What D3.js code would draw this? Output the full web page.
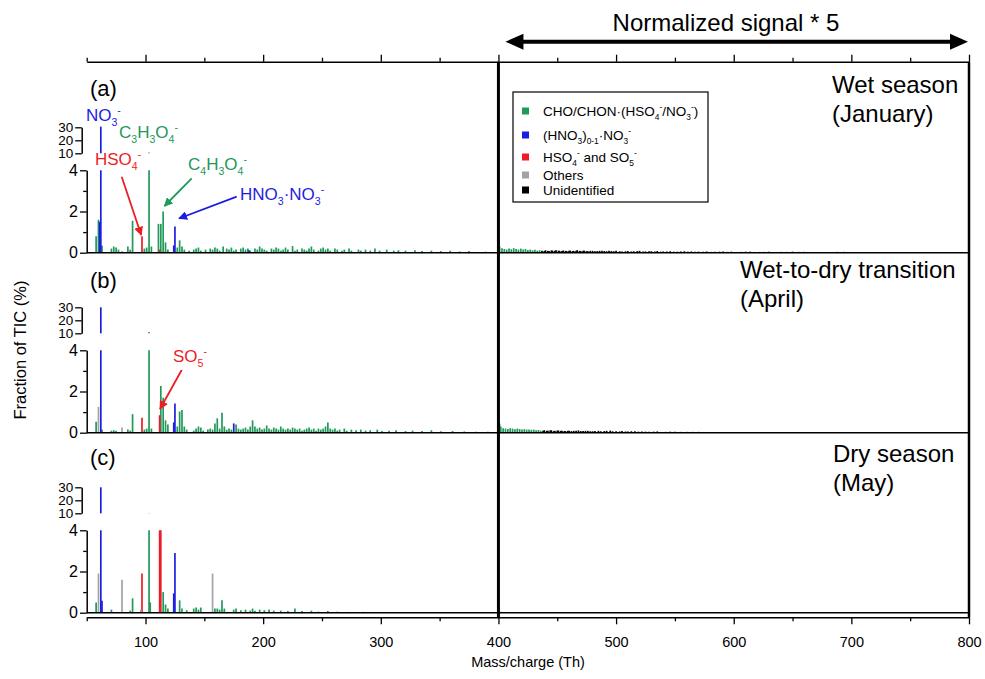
<!DOCTYPE html>
<html><head><meta charset="utf-8">
<script src="https://cdn.jsdelivr.net/npm/d3@7"></script>
<style>
body{margin:0;background:#fff;}
svg{display:block;}
text{font-family:"Liberation Sans",Arial,Helvetica,sans-serif;}
</style>
</head><body>
<svg id="chart" width="985" height="679"></svg>
<script>
// ---------------- DATA (m/z, fraction of TIC %) ----------------
// Values above m/z 400 are the plotted "normalized signal * 5".
const categories = ["cho", "no3", "so4", "other", "unid"];
const xTicks = [50,100,150,200,250,300,350,400,450,500,550,600,650,700,750,800];
const yTicksLow = [0,1,2,3,4];
const yTicksHigh = [10,20,30];

// (a) Wet season (January)
const jan_cho = [[58,0.8],[60,1.6],[63,0.35],[71,0.2],[73,0.3],[75,0.25],[77,0.15],[85,0.3],[87,0.15],[89,1.55],[99,0.2],[101,0.25],[103,10.6],[105,0.3],[111,1.4],[113,1.4],[115,2.0],[117,0.5],[119,0.15],[127,0.25],[129,0.6],[131,0.3],[133,0.15],[137,0.1],[141,0.15],[143,0.2],[145,0.25],[147,0.1],[151,0.15],[155,0.2],[157,0.15],[159,0.25],[161,0.2],[163,0.1],[166,0.3],[169,0.2],[171,0.15],[173,0.25],[175,0.1],[177,0.15],[181,0.2],[183,0.25],[185,0.15],[187,0.2],[189,0.1],[193,0.2],[195,0.15],[197,0.3],[199,0.2],[201,0.15],[203,0.1],[207,0.2],[209,0.15],[211,0.25],[213,0.2],[215,0.1],[217,0.15],[219,0.25],[221,0.15],[225,0.32],[227,0.1],[229,0.15],[233,0.2],[235,0.15],[237,0.1],[239,0.2],[241,0.3],[243,0.15],[247,0.1],[249,0.2],[251,0.25],[253,0.15],[255,0.2],[257,0.1],[261,0.2],[263,0.15],[267,0.1],[269,0.15],[273,0.2],[275,0.1],[281,0.15],[283,0.1],[287,0.15],[291,0.1],[295,0.2],[299,0.1],[305,0.15],[311,0.1],[315,0.12],[321,0.1],[329,0.12],[335,0.08],[343,0.1],[351,0.08],[359,0.1],[367,0.06],[375,0.08],[389,0.05],
  [401,0.3],[403,0.22],[405,0.18],[407,0.15],[409,0.2],[411,0.17],[413,0.22],[415,0.18],[417,0.15],[419,0.2],[421,0.15],[423,0.18],[425,0.13],[427,0.15],[429,0.12],[431,0.14],[433,0.1],[435,0.12]];
const jan_no3 = [[61,1.5],[62,30.5],[124,0.35],[125,1.27],[188,0.12]];
const jan_so4 = [[97,0.8],[112,0.15]];
const jan_other = [[80,0.08]];
const jan_unid = [[437,0.1],[439,0.08],[440,0.12],[442,0.09],[443,0.08],[445,0.11],[446,0.1],[448,0.09],[449,0.12],[451,0.1],[452,0.09],[454,0.08],[455,0.11],[457,0.09],[458,0.08],[460,0.1],[461,0.1],[463,0.08],[464,0.09],[466,0.1],[467,0.12],[469,0.09],[470,0.08],[472,0.1],[473,0.1],[475,0.08],[476,0.07],[478,0.09],[480,0.09],[482,0.07],[484,0.08],[486,0.09],[488,0.1],[490,0.08],[492,0.07],[494,0.09],[496,0.08],[498,0.07],[500,0.09],[503,0.07],[505,0.06],[508,0.07],[510,0.08],[513,0.06],[515,0.07],[518,0.08],[520,0.09],[523,0.06],[525,0.06],[528,0.07],[530,0.07],[533,0.06],[535,0.08],[538,0.05],[540,0.06],[543,0.06],[546,0.07],[549,0.05],[552,0.05],[555,0.06],[558,0.07],[561,0.05],[564,0.06],[567,0.05],[570,0.05],[574,0.05],[577,0.06],[581,0.04],[584,0.05],[588,0.05],[591,0.06],[595,0.04],[598,0.05],[602,0.04],[606,0.04],[610,0.05],[614,0.05],[618,0.04],[622,0.04],[626,0.04],[630,0.05],[635,0.04],[640,0.04],[645,0.04],[650,0.05],[655,0.04],[660,0.04],[665,0.03],[670,0.04],[676,0.03],[682,0.03],[688,0.04],[694,0.04],[700,0.03],[706,0.03],[713,0.03],[720,0.03],[728,0.03],[735,0.03],[742,0.02],[750,0.02],[760,0.02],[770,0.02],[780,0.02]];

// (b) Wet-to-dry transition (April)
const apr_cho = [[58,0.53],[63,0.15],[71,0.1],[73,0.12],[75,0.1],[85,0.15],[87,0.1],[89,0.9],[99,0.15],[101,0.2],[103,11],[105,0.2],[113,2.27],[115,1.7],[117,0.6],[119,0.4],[127,0.3],[129,1.03],[131,1.1],[133,0.3],[135,0.15],[141,0.1],[143,0.2],[145,0.3],[147,0.25],[149,0.1],[153,0.15],[155,0.2],[157,0.15],[159,0.45],[161,0.7],[163,0.2],[165,0.97],[167,0.3],[169,0.15],[171,0.2],[173,0.15],[177,0.4],[179,0.2],[181,0.15],[183,0.2],[185,0.25],[187,0.15],[189,0.3],[191,0.6],[193,0.3],[195,0.2],[197,0.25],[199,0.15],[201,0.2],[203,0.35],[205,0.2],[207,0.15],[209,0.25],[211,0.2],[213,0.15],[215,0.3],[217,0.2],[219,0.15],[221,0.2],[223,0.15],[225,0.25],[227,0.2],[229,0.15],[231,0.2],[233,0.1],[235,0.15],[237,0.2],[239,0.25],[241,0.15],[243,0.2],[245,0.1],[247,0.2],[249,0.15],[251,0.2],[253,0.3],[255,0.5],[257,0.2],[259,0.15],[261,0.2],[263,0.1],[265,0.15],[269,0.2],[271,0.1],[275,0.15],[279,0.12],[283,0.15],[287,0.1],[291,0.12],[297,0.15],[301,0.08],[307,0.1],[313,0.12],[321,0.08],[327,0.1],[335,0.08],[343,0.12],[351,0.07],[361,0.08],[371,0.06],[381,0.05],[391,0.05],
  [401,0.44],[402,0.3],[404,0.22],[406,0.2],[408,0.18],[410,0.22],[412,0.2],[414,0.17],[416,0.2],[418,0.18],[420,0.15],[422,0.17],[424,0.15],[426,0.16],[428,0.14],[430,0.15],[432,0.12],[434,0.13],[436,0.1]];
const apr_no3 = [[62,30],[124,0.5],[125,1.42],[175,0.45]];
const apr_so4 = [[97,0.73],[112,0.85]];
const apr_other = [[60,1.25],[80,0.25]];
const apr_unid = [[438,0.1],[439,0.12],[441,0.09],[442,0.1],[444,0.11],[445,0.12],[447,0.08],[448,0.09],[450,0.1],[451,0.11],[453,0.09],[454,0.1],[456,0.08],[457,0.08],[459,0.09],[460,0.1],[462,0.08],[464,0.09],[466,0.1],[468,0.11],[470,0.08],[472,0.08],[474,0.09],[476,0.09],[478,0.07],[480,0.07],[482,0.08],[485,0.09],[487,0.07],[490,0.08],[492,0.09],[495,0.1],[497,0.07],[500,0.07],[503,0.06],[505,0.08],[508,0.06],[510,0.06],[513,0.07],[516,0.07],[519,0.05],[522,0.06],[525,0.05],[528,0.05],[532,0.05],[535,0.06],[539,0.04],[542,0.04],[546,0.05],[550,0.05],[555,0.04],[560,0.04],[565,0.04],[570,0.04],[576,0.03],[582,0.03],[588,0.03],[595,0.03],[602,0.02],[610,0.02]];

// (c) Dry season (May)
const may_cho = [[58,0.5],[71,0.15],[87,0.1],[89,0.7],[103,10.3],[104,0.5],[115,1.0],[117,0.4],[119,0.2],[129,0.6],[131,0.2],[135,0.12],[141,0.2],[143,0.25],[145,0.15],[147,0.25],[159,0.2],[161,0.2],[163,0.15],[165,0.6],[167,0.2],[175,0.15],[177,0.2],[181,0.12],[185,0.15],[189,0.1],[191,0.2],[193,0.1],[197,0.15],[201,0.12],[205,0.15],[209,0.1],[215,0.1],[221,0.08],[227,0.2],[233,0.08],[241,0.1],[247,0.05],[255,0.08],[263,0.05],[271,0.04],[285,0.04]];
const may_no3 = [[62,30],[63,0.58],[124,0.94],[125,2.9]];
const may_so4 = [[97,1.9],[112,6],[113,5]];
const may_other = [[60,1.9],[80,1.6],[96,0.15],[157,1.9]];
const may_unid = [[402,0.04],[405,0.03],[409,0.03]];

const panelLabels = ["(a)", "(b)", "(c)"];
const seasonLines = [["Wet season","(January)"],["Wet-to-dry transition","(April)"],["Dry season","(May)"]];
const legendLabels = [
  [["CHO/CHON·(HSO",""],["4","sub"],["-","sup"],["/NO",""],["3","sub"],["-","sup"],[")",""]],
  [["(HNO",""],["3","sub"],[")",""],["0-1","sub"],["·NO",""],["3","sub"],["-","sup"]],
  [["HSO",""],["4","sub"],["-","sup"],[" and SO",""],["5","sub"],["-","sup"]],
  [["Others",""]],
  [["Unidentified",""]]
];

// ---------------- DRAWING ----------------
const colors = {cho:"#21995a", no3:"#1d1de0", so4:"#ec1d26", other:"#a3a3a3", unid:"#000000"};
const panelData = [
  {cho:jan_cho, no3:jan_no3, so4:jan_so4, other:jan_other, unid:jan_unid},
  {cho:apr_cho, no3:apr_no3, so4:apr_so4, other:apr_other, unid:apr_unid},
  {cho:may_cho, no3:may_no3, so4:may_so4, other:may_other, unid:may_unid}
];

const svg = d3.select("#chart");
const x = d3.scaleLinear().domain([50, 800]).range([86.7, 969]);
const baselines = [252.7, 432.7, 612.7];
const labelY = [[92.7,121.7],[278.3,306.7],[461.5,490.5]];
const seasonX = [832, 740, 833];
const panelLabelY = [96, 288, 465];

function rich(g, parts, px, py, fs, color) {
  const t = g.append("text").attr("x", px).attr("y", py).attr("font-size", fs).attr("fill", color);
  let shift = 0;
  parts.forEach(([s, k]) => {
    const target = k === "sub" ? 0.28 * fs : k === "sup" ? -0.42 * fs : 0;
    const ts = t.append("tspan").attr("dy", target - shift).text(s);
    if (k) ts.attr("font-size", fs * 0.62);
    shift = target;
  });
  return t;
}

function styleAxis(g, fs) {
  g.attr("font-family", null).attr("font-size", null);
  g.selectAll("text").attr("font-size", fs).attr("fill", "#000");
  g.selectAll("path.domain").attr("stroke", "#000").attr("stroke-width", 1.5);
  g.selectAll(".tick line").attr("stroke", "#000").attr("stroke-width", 1.3);
}

panelData.forEach((pd, i) => {
  const base = baselines[i];
  const yLo = d3.scaleLinear().domain([0, 4]).range([base, base - 82.4]);
  const yHi = d3.scaleLinear().domain([10, 30]).range([base - 99.4, base - 125.4]);
  const g = svg.append("g");

  categories.forEach(cat => {
    const data = pd[cat];
    g.append("g").selectAll("line").data(data).join("line")
      .attr("x1", d => x(d[0])).attr("x2", d => x(d[0]))
      .attr("y1", yLo(0)).attr("y2", d => yLo(Math.min(d[1], 4)))
      .attr("stroke", colors[cat]).attr("stroke-width", 1.7);
    g.append("g").selectAll("line").data(data.filter(d => d[1] > 10)).join("line")
      .attr("x1", d => x(d[0])).attr("x2", d => x(d[0]))
      .attr("y1", yHi(10)).attr("y2", d => yHi(Math.min(d[1], 30.5)))
      .attr("stroke", colors[cat]).attr("stroke-width", 1.7);
  });

  g.append("line").attr("x1", x(50)).attr("x2", x(800)).attr("y1", base).attr("y2", base)
    .attr("stroke", "#000").attr("stroke-width", 1.5);

  const axLo = g.append("g").attr("transform", `translate(${x(50)},0)`)
    .call(d3.axisLeft(yLo).tickValues(yTicksLow).tickFormat(d => d % 2 === 0 ? d : "").tickSize(6.7).tickPadding(2).tickSizeOuter(0));
  styleAxis(axLo, 16);
  axLo.selectAll(".tick line").attr("x2", d => d % 2 === 0 ? -6.7 : -3.5);
  const axHi = g.append("g").attr("transform", `translate(${x(50) - 5},0)`)
    .call(d3.axisLeft(yHi).tickValues(yTicksHigh).tickSize(6.5).tickPadding(2).tickSizeOuter(0));
  styleAxis(axHi, 12.5);
  axHi.selectAll("text").attr("textLength", 15).attr("lengthAdjust", "spacingAndGlyphs");

  g.append("text").attr("x", 90).attr("y", panelLabelY[i]).attr("font-size", 22).text(panelLabels[i]);
  seasonLines[i].forEach((s, j) => {
    g.append("text").attr("x", seasonX[i]).attr("y", labelY[i][j]).attr("font-size", 24).text(s);
  });
});

svg.append("line").attr("x1", x(400)).attr("x2", x(400)).attr("y1", 61.7).attr("y2", 617.3)
  .attr("stroke", "#000").attr("stroke-width", 3);
svg.append("line").attr("x1", x(800)).attr("x2", x(800)).attr("y1", 61.7).attr("y2", 617.3)
  .attr("stroke", "#000").attr("stroke-width", 2.5);

const axB = svg.append("g").attr("transform", "translate(0,617.3)")
  .call(d3.axisBottom(x).tickValues(xTicks).tickFormat(d => d % 100 === 0 ? d : "").tickSize(7).tickPadding(12).tickSizeOuter(0));
styleAxis(axB, 14.5);
axB.selectAll(".tick line").attr("y2", d => d % 100 === 0 ? 7 : 4);

const axT = svg.append("g").attr("transform", "translate(0,61.7)")
  .call(d3.axisTop(x).tickValues(xTicks).tickFormat("").tickSize(7).tickSizeOuter(0));
styleAxis(axT, 14);
axT.selectAll(".tick line").attr("y2", d => d % 100 === 0 ? -7 : -4);

svg.append("text").attr("x", 528).attr("y", 667).attr("text-anchor", "middle").attr("font-size", 14.5).text("Mass/charge (Th)");
svg.append("text").attr("transform", "translate(26,350) rotate(-90)").attr("text-anchor", "middle").attr("font-size", 16.5).text("Fraction of TIC (%)");

svg.append("text").attr("x", 726).attr("y", 31).attr("text-anchor", "middle").attr("font-size", 24).text("Normalized signal * 5");
const ay = 41.7;
svg.append("line").attr("x1", x(400) + 18).attr("x2", x(800) - 18).attr("y1", ay).attr("y2", ay).attr("stroke", "#000").attr("stroke-width", 4);
svg.append("path").attr("d", `M${x(400) + 7},${ay} L${x(400) + 25},${ay - 8} L${x(400) + 25},${ay + 8} Z`).attr("fill", "#000");
svg.append("path").attr("d", `M${x(800) - 1},${ay} L${x(800) - 19},${ay - 8} L${x(800) - 19},${ay + 8} Z`).attr("fill", "#000");

const defs = svg.append("defs");
["no3", "so4", "cho"].forEach(k => {
  defs.append("marker").attr("id", "arr-" + k).attr("viewBox", "0 0 10 10").attr("refX", 9).attr("refY", 5)
    .attr("markerWidth", 5).attr("markerHeight", 5).attr("orient", "auto")
    .append("path").attr("d", "M0,0 L10,5 L0,10 Z").attr("fill", colors[k]);
});
function arrow(k, x1, y1, x2, y2) {
  svg.append("line").attr("x1", x1).attr("y1", y1).attr("x2", x2).attr("y2", y2)
    .attr("stroke", colors[k]).attr("stroke-width", 1.8).attr("marker-end", `url(#arr-${k})`);
}
const ann = svg.append("g");
rich(ann, [["NO",""],["3","sub"],["-","sup"]], 86, 121, 17, colors.no3);
rich(ann, [["C",""],["3","sub"],["H",""],["3","sub"],["O",""],["4","sub"],["-","sup"]], 119, 138, 17, colors.cho);
rich(ann, [["HSO",""],["4","sub"],["-","sup"]], 95, 165, 17, colors.so4);
rich(ann, [["C",""],["4","sub"],["H",""],["3","sub"],["O",""],["4","sub"],["-","sup"]], 188, 170, 17, colors.cho);
rich(ann, [["HNO",""],["3","sub"],["·NO",""],["3","sub"],["-","sup"]], 240, 200, 17, colors.no3);
rich(ann, [["SO",""],["5","sub"],["-","sup"]], 173, 362, 17, colors.so4);
arrow("so4", 121.7, 176.7, 141.2, 235);
arrow("cho", 191.7, 178.3, 164.5, 206);
arrow("no3", 236.7, 196.7, 179, 218.5);
arrow("so4", 181.7, 370, 160, 409);

const lg = svg.append("g");
lg.append("rect").attr("x", 513).attr("y", 92).attr("width", 195).attr("height", 110)
  .attr("fill", "#fff").attr("stroke", "#000").attr("stroke-width", 1.2);
const legY = [111, 135, 157, 175, 190];
categories.forEach((c, i) => {
  lg.append("rect").attr("x", 522).attr("y", legY[i] - 3.5).attr("width", 7).attr("height", 7).attr("fill", colors[c]);
  rich(lg, legendLabels[i], 543, legY[i] + 5, 13.5, "#000");
});
</script>
</body></html>
